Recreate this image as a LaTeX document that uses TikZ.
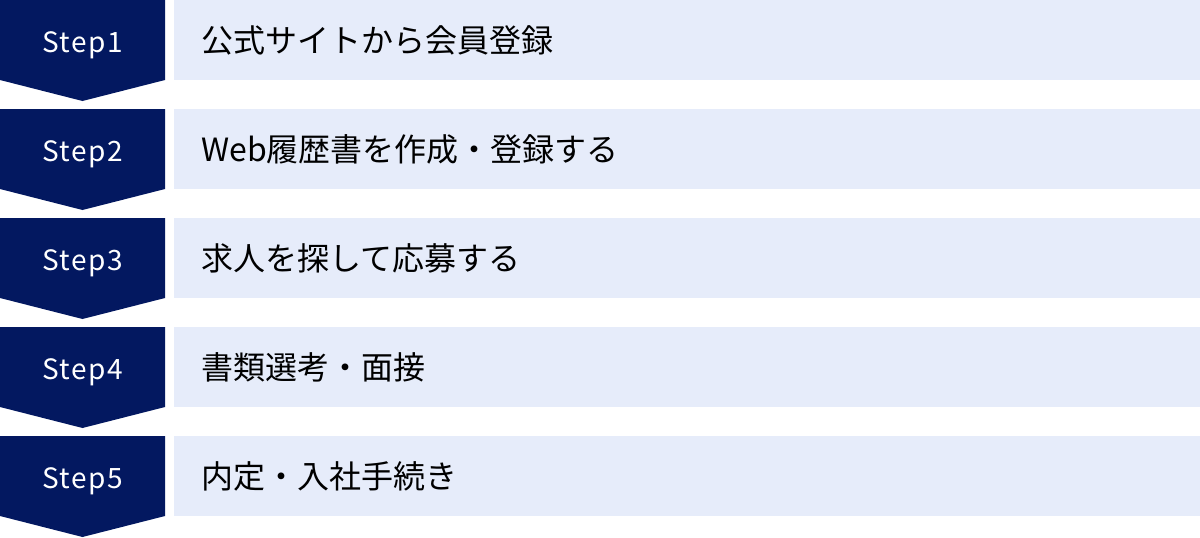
\documentclass[tikz,border=0pt]{standalone}
\usepackage{fontspec}
\setmainfont{Noto Sans CJK JP}
\newfontfamily\jpfont{Noto Sans CJK JP}
\newfontfamily\stepfont[LetterSpace=5]{Noto Sans CJK JP}
\definecolor{navy}{RGB}{3,24,96}
\definecolor{pale}{RGB}{230,236,250}
\begin{document}
\begin{tikzpicture}[x=1pt,y=-1pt,
  chev/.style={fill=navy,draw=none},
  band/.style={fill=pale,draw=none},
  steplabel/.style={text=white,font=\stepfont\fontsize{28}{32}\selectfont,anchor=base,inner sep=0pt},
  bandlabel/.style={text=black,font=\jpfont\fontsize{32}{36}\selectfont,anchor=west,inner sep=0pt}]
\useasboundingbox (0,0) rectangle (1200,538);
\foreach \i/\s/\t in {0/1/公式サイトから会員登録,1/2/Web履歴書を作成・登録する,2/3/求人を探して応募する,3/4/書類選考・面接,4/5/内定・入社手続き}{
  \pgfmathsetmacro{\y}{\i*109}
  \fill[chev] (0,\y) -- (165,\y) -- (165,\y+80) -- (82.5,\y+101) -- (0,\y+80) -- cycle;
  \fill[band] (174,\y) rectangle (1200,\y+80);
  \node[steplabel] (s\s) at (82.5,\y+52) {Step\s};
  \node[bandlabel] (t\s) at (201,\y+40) {\t};
}
\end{tikzpicture}
\end{document}
